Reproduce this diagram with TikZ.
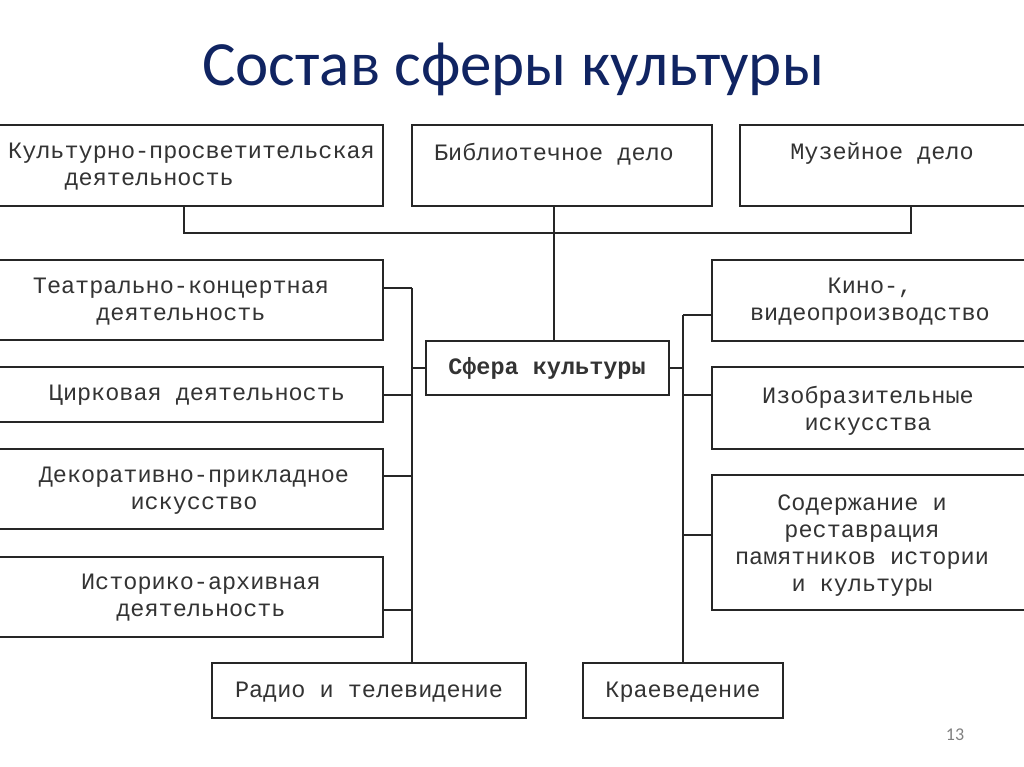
\documentclass[tikz,border=0pt]{standalone}
\usepackage{fontspec}
\setmainfont{Carlito}
\setmonofont{Liberation Mono}
\usetikzlibrary{positioning,calc}
\definecolor{titleblue}{RGB}{16,36,98}

\begin{document}
\begin{tikzpicture}[x=1pt,y=-1pt,
		box/.style={draw=black!85, line width=1.8pt, rectangle, inner sep=0pt},
		txt/.style={font=\fontsize{23.5}{27}\selectfont\ttfamily, text=black!80, align=center, inner sep=0pt},
		link/.style={draw=black!85, line width=1.8pt}
	]
	\useasboundingbox (0,0) rectangle (1024,767);
	\clip (0,0) rectangle (1024,767);

	% Title
	\node[anchor=base, text=titleblue, font=\fontsize{63}{66}\selectfont] (title) at (513,86) {Состав сферы культуры};
	\node[anchor=base, text=black!50, font=\fontsize{18}{20}\selectfont] (pagenum) at (955,740) {13};

	% Top row
	\node[box, minimum width=398pt, minimum height=81pt] (kp) at (184,165.5) {};
	\node[box, minimum width=300pt, minimum height=81pt] (bib) at (562,165.5) {};
	\node[box, minimum width=342pt, minimum height=81pt] (muz) at (911,165.5) {};
	\node[txt, align=left, anchor=west] (kp-t) at (8,167) {Культурно-просветительская\\\phantom{0000}деятельность};
	\node[txt] (bib-t) at (554,154) {Библиотечное дело};
	\node[txt] (muz-t) at (882,154) {Музейное дело};

	% Centre
	\node[box, minimum width=243pt, minimum height=54pt] (sfera) at (547.5,368) {};
	\node[txt, font=\fontsize{23.5}{27}\selectfont\ttfamily\bfseries] (sfera-t) at (547,368) {Сфера культуры};

	% Left column
	\node[box, minimum width=398pt, minimum height=80pt] (teatr) at (184,300) {};
	\node[box, minimum width=398pt, minimum height=55pt] (circus) at (184,394.5) {};
	\node[box, minimum width=398pt, minimum height=80pt] (decor) at (184,489) {};
	\node[box, minimum width=398pt, minimum height=80pt] (arch) at (184,597) {};
	\node[box, minimum width=314pt, minimum height=55pt] (radio) at (369,690.5) {};
	\node[txt] (teatr-t) at (181,302) {Театрально-концертная\\деятельность};
	\node[txt] (circus-t) at (197,395) {Цирковая деятельность};
	\node[txt] (decor-t) at (194,491) {Декоративно-прикладное\\искусство};
	\node[txt] (arch-t) at (201,598) {Историко-архивная\\деятельность};
	\node[txt] (radio-t) at (369,692) {Радио и телевидение};

	% Right column
	\node[box, minimum width=344pt, minimum height=81pt] (kino) at (884,300.5) {};
	\node[box, minimum width=344pt, minimum height=82pt] (izo) at (884,408) {};
	\node[box, minimum width=344pt, minimum height=135pt] (sod) at (884,542.5) {};
	\node[box, minimum width=200pt, minimum height=55pt] (kraev) at (683,690.5) {};
	\node[txt] (kino-t) at (870,302) {Кино-,\\видеопроизводство};
	\node[txt] (izo-t) at (868,410.5) {Изобразительные\\искусства};
	\node[txt] (sod-t) at (862,546) {Содержание и\\реставрация\\памятников истории\\и культуры};
	\node[txt] (kraev-t) at (683,692) {Краеведение};

	% Connectors
	\coordinate (trunk) at (554,233);
	\coordinate (lbus) at (412,288);
	\coordinate (rbus) at (683,315);
	\draw[link] (kp.south) |- (trunk) -| (muz.south);
	\draw[link] (trunk |- bib.south) -- (trunk |- sfera.north);

	\draw[link] (lbus) -- (lbus |- radio.north);
	\draw[link] (teatr.east |- lbus) -- (lbus);
	\draw[link] ([yshift=-0.5pt]circus.east) -- ([yshift=-0.5pt]circus.east -| lbus);
	\draw[link] ([yshift=13pt]decor.east) -- ([yshift=13pt]decor.east -| lbus);
	\draw[link] ([yshift=-13pt]arch.east) -- ([yshift=-13pt]arch.east -| lbus);
	\draw[link] (sfera.west) -- (sfera.west -| lbus);

	\draw[link] (rbus) -- (kraev.north);
	\draw[link] (rbus) -- (rbus -| kino.west);
	\draw[link] ([yshift=13pt]izo.west) -- ([yshift=13pt]izo.west -| rbus);
	\draw[link] ([yshift=7.5pt]sod.west) -- ([yshift=7.5pt]sod.west -| rbus);
	\draw[link] (sfera.east) -- (sfera.east -| rbus);
\end{tikzpicture}
\end{document}
